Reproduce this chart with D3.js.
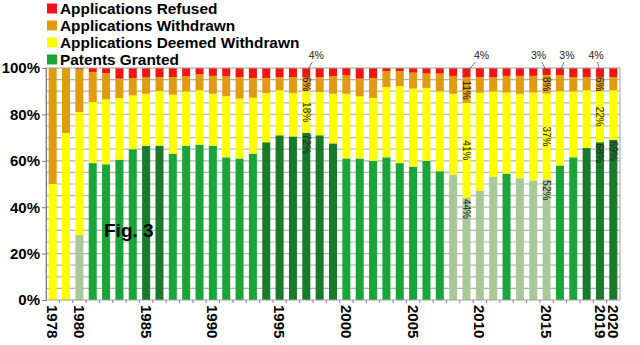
<!DOCTYPE html>
<html><head><meta charset="utf-8">
<script src="https://cdn.jsdelivr.net/npm/d3@7"></script>
<style>
html,body{margin:0;padding:0;background:#fff;}
svg{display:block;font-family:Arial,"Liberation Sans",sans-serif;}
</style></head>
<body><svg id="c" width="640" height="345"></svg>
<script>
const years = d3.range(1978, 2021);
// percentages per year (1978..2020)
const granted = [0,0,28,59,58.5,60.5,65,66.5,66.5,63,66.5,67,66.5,61.5,61,63,68,71,70.5,72,71,67.5,61,61,60,61.5,59,57.5,60,55.5,54,44,47,53,54.5,52.5,51.5,52,58,61.5,65.5,68,69];
const deemed = [50,72,53,26.3,28,26.6,23.2,22.4,23.6,25.5,23.4,23.4,22.4,26.3,25.8,24.2,21.2,19.4,18.7,18,18.7,21.4,27.9,26.8,27.1,30.3,33.2,33.6,31.4,34.4,34.9,41,42.4,36.9,34.9,36.4,37.9,37,32,28.4,24.9,22,21.4];
const withdrawn = [50,28,18.4,13,11.3,8.3,7.5,7.2,6,7.6,6.5,6.9,7.7,8.6,9.3,8.5,6.5,5.7,6.9,6,6.4,7.5,7.9,7.6,8.6,6.9,6.5,6.9,6.2,7.7,7.7,11,6.7,6.2,7.2,7.7,7.2,8,7,6.2,5.7,6,5.7];
const refused = [0,0,0.6,1.7,2.2,4.6,4.3,3.9,3.9,3.9,3.6,2.7,3.4,3.6,3.9,4.3,4.3,3.9,3.9,4,3.9,3.6,3.2,4.6,4.3,1.3,1.3,2,2.4,2.4,3.4,4,3.9,3.9,3.4,3.4,3.4,3,3,3.9,3.9,4,3.9];
// shade of the granted bar: l light, m medium, d dark
const grantShade = "--lmmmmddmmmmmmmddddddmmmmmmmmllllmlllmmddd".split("");
const xTickLabels = ["1978","1980","1985","1990","1995","2000","2005","2010","2015","2019","2020"];
const yTicks = [0,20,40,60,80,100];
const seriesNames = ["Applications Refused","Applications Withdrawn","Applications Deemed Withdrawn","Patents Granted"];
// in-bar labels
const barLabels = [
  {year:1997, key:"withdrawn", text:"6%"},{year:1997, key:"deemed", text:"18%"},{year:1997, key:"granted", text:"72%"},
  {year:2009, key:"withdrawn", text:"11%"},{year:2009, key:"deemed", text:"41%"},{year:2009, key:"granted", text:"44%"},
  {year:2015, key:"withdrawn", text:"8%"},{year:2015, key:"deemed", text:"37%"},{year:2015, key:"granted", text:"52%"},
  {year:2019, key:"withdrawn", text:"6%"},{year:2019, key:"deemed", text:"22%"},{year:2019, key:"granted", text:"68%"},
  {year:2020, key:"granted", text:"69%"}
];
const topLabelYears = [1997, 2009, 2015, 2016, 2019];
const topLabelTexts = ["4%","4%","3%","3%","4%"];
const topLabelShift = [10, 15, -8, 7, -4];

const colors = {refused:"#f41414", withdrawn:"#e19b12", deemed:"#ffff00", granted:"#1aa43a"};
const greenShades = {l:"#a9c99a", m:"#1aa43a", d:"#1a7a2c"};

const svg = d3.select("#c");
const L = 46, R = 620, T = 68, B = 300;
const x = d3.scaleBand().domain(years).range([L, R]).paddingInner(0.4).paddingOuter(0.2);
const y = d3.scaleLinear().domain([0, 100]).range([B, T]);

// gridlines
svg.append("g").selectAll("line").data(d3.range(5, 100, 5)).join("line")
  .attr("x1", L).attr("x2", R).attr("y1", d => y(d)).attr("y2", d => y(d))
  .attr("stroke", "#b3b3b3").attr("stroke-width", 1.2);

// stack data
const rows = years.map((yr, i) => ({year: yr, granted: granted[i], deemed: deemed[i], withdrawn: withdrawn[i], refused: refused[i], shade: grantShade[i]}));
const keys = ["granted","deemed","withdrawn","refused"];
const stacked = d3.stack().keys(keys)(rows);
const segTop = {}, segBot = {};
stacked.forEach(s => s.forEach(d => { segTop[s.key + d.data.year] = d[1]; segBot[s.key + d.data.year] = d[0]; }));

svg.append("g").selectAll("g").data(stacked).join("g")
  .each(function(s) {
    d3.select(this).selectAll("rect").data(s.filter(d => d[1] - d[0] > 0)).join("rect")
      .attr("x", d => x(d.data.year)).attr("width", x.bandwidth())
      .attr("y", d => y(d[1])).attr("height", d => y(d[0]) - y(d[1]))
      .attr("fill", d => s.key === "granted" ? greenShades[d.data.shade] : colors[s.key]);
  });

// frame & axes
svg.append("rect").attr("x", L).attr("y", T).attr("width", R - L).attr("height", B - T)
  .attr("fill", "none").attr("stroke", "#a0a0a0").attr("stroke-width", 1);
const yAxis = svg.append("g").attr("transform", `translate(${L},0)`)
  .call(d3.axisLeft(y).tickValues(yTicks).tickFormat(d => d + "%").tickSize(4).tickPadding(2));
yAxis.select(".domain").attr("stroke", "#808080");
yAxis.selectAll(".tick line").attr("stroke", "#808080");
yAxis.selectAll("text").attr("font-size", 15).attr("font-weight", "bold").attr("fill", "#000")
  .attr("font-family", "Arial, 'Liberation Sans', sans-serif");

// x minor ticks at band boundaries
const step = x.step();
svg.append("g").selectAll("line").data(years.slice(1)).join("line")
  .attr("x1", d => x(d) - step * 0.2).attr("x2", d => x(d) - step * 0.2)
  .attr("y1", B).attr("y2", B + 3).attr("stroke", "#808080");

// x labels
svg.append("g").selectAll("text").data(xTickLabels).join("text")
  .attr("transform", d => `translate(${x(+d) + x.bandwidth() / 2},${B + 5}) rotate(90)`)
  .attr("dy", "0.36em").attr("font-size", 15).attr("font-weight", "bold").text(d => d);

// in-bar labels
svg.append("g").selectAll("text").data(barLabels).join("text")
  .attr("transform", d => {
    const cx = x(d.year) + x.bandwidth() / 2;
    const t = segTop[d.key + d.year], b = segBot[d.key + d.year];
    const py = d.key === "granted" ? y(t) + 1 : y((t + b) / 2);
    return `translate(${cx},${py}) rotate(90)`;
  })
  .attr("text-anchor", d => d.key === "granted" ? "start" : "middle")
  .attr("dy", "0.35em").attr("font-size", 10).attr("fill", "#222").text(d => d.text);

// top labels with leader lines
const tl = svg.append("g");
topLabelYears.forEach((yr, i) => {
  const cx = x(yr) + x.bandwidth() / 2;
  const tx = cx + topLabelShift[i];
  tl.append("line").attr("x1", tx - topLabelShift[i] * 0.4).attr("y1", T - 6)
    .attr("x2", cx).attr("y2", y(100 - refused[years.indexOf(yr)] / 2))
    .attr("stroke", "#555").attr("stroke-width", 0.8);
  tl.append("text").attr("x", tx).attr("y", T - 9).attr("text-anchor", "middle")
    .attr("font-size", 10.5).attr("fill", "#222").text(topLabelTexts[i]);
});

// legend
const legColors = [colors.refused, colors.withdrawn, colors.deemed, colors.granted];
const lg = svg.append("g");
seriesNames.forEach((n, i) => {
  lg.append("rect").attr("x", 47).attr("y", 3.5 + i * 17).attr("width", 10).attr("height", 10).attr("fill", legColors[i]);
  lg.append("text").attr("x", 60).attr("y", 13.5 + i * 17).attr("font-size", 15.4).attr("font-weight", "bold").text(n);
});

// figure label
svg.append("text").attr("x", 104).attr("y", 237).attr("font-size", 19).attr("font-weight", "bold").text("Fig. 3");
</script></body></html>
